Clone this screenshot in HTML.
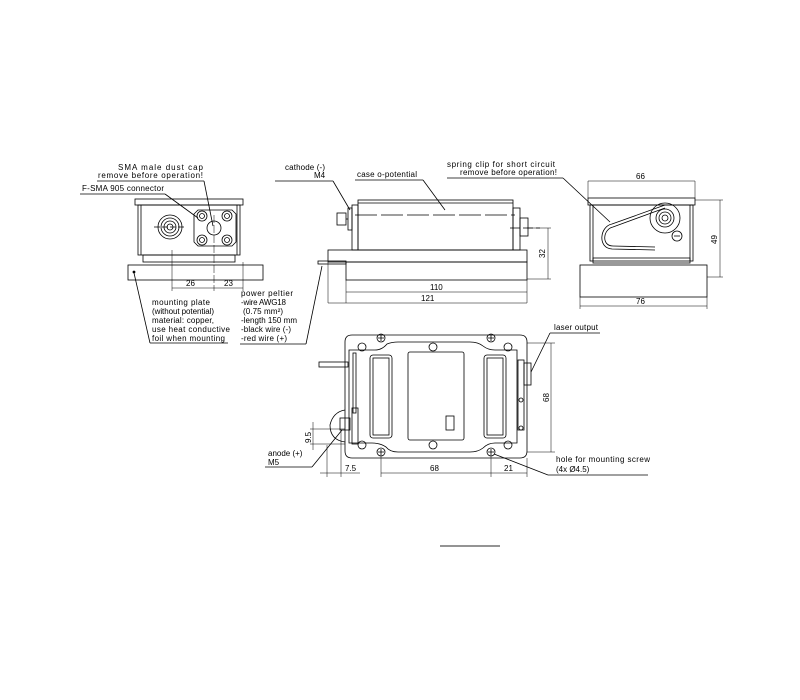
<!DOCTYPE html>
<html><head><meta charset="utf-8"><style>
html,body{margin:0;padding:0;background:#fff;}
svg{display:block;}
text{font-family:"Liberation Sans",sans-serif;font-size:8px;fill:#000;}
</style></head><body>
<svg width="800" height="700" viewBox="0 0 800 700" xmlns="http://www.w3.org/2000/svg" fill="none" stroke="#000" stroke-width="0.8">
<!-- FRONT VIEW -->
<rect x="135" y="199" width="108" height="6"/>
<rect x="138" y="205" width="102" height="50"/>
<line x1="141" y1="205" x2="141" y2="255"/><line x1="237" y1="205" x2="237" y2="255"/>
<rect x="143" y="255" width="92" height="7"/>
<rect x="128" y="265" width="135" height="15"/>
<circle cx="134" cy="272" r="1" fill="#000"/>
<circle cx="170" cy="227" r="12"/><circle cx="170" cy="227" r="9"/><circle cx="170" cy="227" r="6"/><circle cx="170" cy="227" r="3"/>
<line x1="154" y1="227" x2="186" y2="227" stroke-dasharray="6 2"/>
<polygon points="198,210 232,210 236,214 236,242 232,246 198,246 194,242 194,214"/>
<circle cx="202" cy="216" r="5"/><circle cx="202" cy="216" r="2.5"/>
<circle cx="227" cy="216" r="5"/><circle cx="227" cy="216" r="2.5"/>
<circle cx="202" cy="240" r="5"/><circle cx="202" cy="240" r="2.5"/>
<circle cx="227" cy="240" r="5"/><circle cx="227" cy="240" r="2.5"/>
<circle cx="214" cy="228" r="7"/>
<line x1="172" y1="250" x2="172" y2="291" stroke-width="0.5"/>
<line x1="214" y1="215" x2="214" y2="291" stroke-width="0.5" stroke-dasharray="8 2"/>
<line x1="243" y1="262" x2="243" y2="291" stroke-width="0.5"/>
<line x1="172" y1="288" x2="243" y2="288" stroke-width="0.5"/>
<text x="186" y="286" stroke="none">26</text><text x="224" y="286" stroke="none">23</text>
<text x="118" y="170" stroke="none" textLength="85">SMA male dust cap</text>
<text x="98" y="178" stroke="none" textLength="105">remove before operation!</text>
<line x1="97" y1="181" x2="204" y2="181"/><line x1="204" y1="181" x2="213" y2="226"/>
<text x="82" y="191" stroke="none" textLength="82">F-SMA 905 connector</text>
<line x1="80" y1="194" x2="165" y2="194"/><line x1="165" y1="194" x2="198" y2="218"/>
<text x="152" y="305" stroke="none" textLength="58">mounting plate</text>
<text x="152" y="314" stroke="none" textLength="62">(without potential)</text>
<text x="152" y="323" stroke="none" textLength="62">material: copper,</text>
<text x="152" y="332" stroke="none" textLength="78">use heat conductive</text>
<text x="152" y="341" stroke="none" textLength="73">foil when mounting</text>
<line x1="150" y1="343" x2="228" y2="343"/><line x1="150" y1="343" x2="134" y2="273"/>
<text x="241" y="296" stroke="none" textLength="52">power peltier</text>
<text x="241" y="305" stroke="none" textLength="45">-wire AWG18</text>
<text x="243" y="314" stroke="none" textLength="40">(0.75 mm²)</text>
<text x="241" y="323" stroke="none" textLength="56">-length 150 mm</text>
<text x="241" y="332" stroke="none" textLength="50">-black wire (-)</text>
<text x="241" y="341" stroke="none" textLength="46">-red wire (+)</text>
<line x1="240" y1="344" x2="306" y2="344"/><line x1="306" y1="344" x2="322" y2="266"/>
<!-- SIDE VIEW -->
<rect x="358" y="200" width="155" height="50"/>
<line x1="358" y1="203" x2="513" y2="203"/>
<line x1="355" y1="215" x2="515" y2="215" stroke-dasharray="22 4"/>
<line x1="510" y1="228" x2="540" y2="228" stroke-dasharray="10 3"/>
<rect x="352" y="205" width="6" height="45"/><rect x="348" y="208" width="4" height="22"/>
<rect x="337" y="213" width="9" height="12"/><line x1="346" y1="219" x2="348" y2="219"/>
<rect x="513" y="208" width="7" height="42"/><rect x="520" y="218" width="8" height="18"/>
<rect x="328" y="250" width="199" height="12"/>
<rect x="346" y="262" width="181" height="18"/>
<rect x="318" y="261" width="28" height="3"/>
<line x1="527" y1="228" x2="551" y2="228" stroke-width="0.5"/><line x1="527" y1="279" x2="551" y2="279" stroke-width="0.5"/>
<line x1="548" y1="228" x2="548" y2="279" stroke-width="0.5"/>
<text x="0" y="0" stroke="none" transform="translate(545,258) rotate(-90)">32</text>
<line x1="346" y1="280" x2="346" y2="303" stroke-width="0.5"/><line x1="527" y1="280" x2="527" y2="303" stroke-width="0.5"/>
<line x1="328" y1="262" x2="328" y2="303" stroke-width="0.5"/>
<line x1="346" y1="292" x2="527" y2="292" stroke-width="0.5"/><text x="430" y="290" stroke="none">110</text>
<line x1="328" y1="303" x2="527" y2="303" stroke-width="0.5"/><text x="421" y="301" stroke="none">121</text>
<text x="285" y="170" stroke="none" textLength="40">cathode (-)</text>
<text x="314" y="178" stroke="none">M4</text>
<line x1="275" y1="181" x2="333" y2="181"/><line x1="333" y1="181" x2="350" y2="210"/>
<text x="357" y="177" stroke="none" textLength="60">case o-potential</text>
<line x1="355" y1="180" x2="423" y2="180"/><line x1="423" y1="180" x2="445" y2="210"/>
<text x="447" y="167" stroke="none" textLength="108">spring clip for short circuit</text>
<text x="460" y="175" stroke="none" textLength="97">remove before operation!</text>
<line x1="447" y1="178" x2="563" y2="178"/><line x1="563" y1="178" x2="610" y2="222"/>
<!-- RIGHT VIEW -->
<rect x="588" y="198" width="107" height="7"/>
<rect x="590" y="205" width="103" height="56"/>
<line x1="593" y1="205" x2="593" y2="261"/><line x1="690" y1="205" x2="690" y2="261"/>
<rect x="593" y="258" width="97" height="5"/>
<rect x="580" y="265" width="127" height="32"/>
<path d="M665,205 L612,224 C600,226 597,248 612,249 L655,250" />
<path d="M665,208 L613,227 C603,229 601,246 613,246 L655,247" />
<circle cx="665" cy="218" r="15"/><circle cx="665" cy="218" r="9"/><circle cx="665" cy="218" r="6"/><circle cx="665" cy="218" r="3"/>
<circle cx="677" cy="236" r="5"/><line x1="674" y1="236" x2="680" y2="236"/>
<line x1="588" y1="181" x2="588" y2="198" stroke-width="0.5"/><line x1="695" y1="181" x2="695" y2="198" stroke-width="0.5"/>
<line x1="588" y1="181" x2="695" y2="181" stroke-width="0.5"/><text x="636" y="179" stroke="none">66</text>
<line x1="695" y1="200" x2="723" y2="200" stroke-width="0.5"/><line x1="707" y1="277" x2="723" y2="277" stroke-width="0.5"/>
<line x1="720" y1="200" x2="720" y2="277" stroke-width="0.5"/>
<text x="0" y="0" stroke="none" transform="translate(717,244) rotate(-90)">49</text>
<line x1="580" y1="297" x2="580" y2="309" stroke-width="0.5"/><line x1="707" y1="297" x2="707" y2="309" stroke-width="0.5"/>
<line x1="580" y1="306" x2="707" y2="306" stroke-width="0.5"/><text x="636" y="304" stroke="none">76</text>
<!-- TOP VIEW -->
<path d="M352,335 L520,335 Q527,335 527,342 L527,451 Q527,458 520,458 L352,458 Q345,458 345,451 L345,342 Q345,335 352,335 Z"/>
<path d="M349,350 L375,350 Q382,350 387,344 Q392,342 398,342 L470,342 Q478,342 483,346 Q488,350 495,350 L517,350 L517,443 L495,443 Q488,443 483,448 Q478,452 470,452 L398,452 Q390,452 386,447 Q380,443 372,443 L349,443 Z"/>
<rect x="370" y="355" width="22" height="83" rx="3"/><rect x="373" y="358" width="16" height="77"/>
<rect x="484" y="355" width="22" height="83" rx="3"/><rect x="487" y="358" width="16" height="77"/>
<rect x="408" y="352" width="56" height="88" rx="2"/>
<rect x="446" y="416" width="8" height="14"/>
<g>
<circle cx="362" cy="347" r="4"/><circle cx="433" cy="347" r="4"/><circle cx="508" cy="347" r="4"/>
<circle cx="362" cy="445" r="4"/><circle cx="433" cy="445" r="4"/><circle cx="508" cy="445" r="4"/>
<circle cx="381" cy="338" r="4"/><circle cx="491" cy="338" r="4"/><circle cx="381" cy="452" r="4"/><circle cx="491" cy="452" r="4"/>
<path d="M378,338h6M381,335v6M488,338h6M491,335v6M378,452h6M381,449v6M488,452h6M491,449v6"/>
</g>
<rect x="319" y="362" width="29" height="5"/>
<rect x="353" y="353" width="3" height="60"/>
<rect x="352" y="408" width="6" height="36"/><rect x="340" y="418" width="10" height="12"/>
<path d="M345,410 Q333,412 330,425 Q330,440 345,442"/>
<rect x="518" y="360" width="6" height="70"/><rect x="524" y="363" width="7" height="22"/>
<circle cx="521" cy="400" r="2"/><circle cx="521" cy="428" r="2"/>
<line x1="527" y1="343" x2="555" y2="343" stroke-width="0.5"/><line x1="527" y1="452" x2="555" y2="452" stroke-width="0.5"/>
<line x1="551" y1="343" x2="551" y2="452" stroke-width="0.5"/>
<text x="0" y="0" stroke="none" transform="translate(549,402) rotate(-90)">68</text>
<text x="554" y="330" stroke="none" textLength="44">laser output</text>
<line x1="550" y1="333" x2="600" y2="333"/><line x1="550" y1="333" x2="531" y2="372"/>
<line x1="381" y1="455" x2="381" y2="477" stroke-width="0.5"/><line x1="491" y1="455" x2="491" y2="477" stroke-width="0.5"/>
<line x1="527" y1="458" x2="527" y2="477" stroke-width="0.5"/>
<line x1="381" y1="473" x2="527" y2="473" stroke-width="0.5"/>
<text x="430" y="471" stroke="none">68</text><text x="504" y="471" stroke="none">21</text>
<line x1="327" y1="445" x2="327" y2="477" stroke-width="0.5"/><line x1="341" y1="430" x2="341" y2="477" stroke-width="0.5"/>
<line x1="320" y1="473" x2="360" y2="473" stroke-width="0.5"/><text x="345" y="471" stroke="none">7.5</text>
<line x1="310" y1="429" x2="345" y2="429" stroke-width="0.5"/><line x1="310" y1="444" x2="345" y2="444" stroke-width="0.5"/>
<line x1="313" y1="422" x2="313" y2="450" stroke-width="0.5"/>
<text x="0" y="0" stroke="none" transform="translate(311,443) rotate(-90)">9.5</text>
<text x="268" y="456" stroke="none">anode (+)</text><text x="268" y="465" stroke="none">M5</text>
<line x1="265" y1="467" x2="312" y2="467"/><line x1="312" y1="467" x2="342" y2="430"/>
<text x="556" y="462" stroke="none" textLength="94">hole for mounting screw</text>
<text x="556" y="472" stroke="none">(4x Ø4.5)</text>
<line x1="548" y1="475" x2="648" y2="475"/><line x1="548" y1="475" x2="494" y2="454"/>
<line x1="440" y1="546" x2="500" y2="546" stroke="#555" stroke-width="1.2"/>
</svg>
</body></html>
